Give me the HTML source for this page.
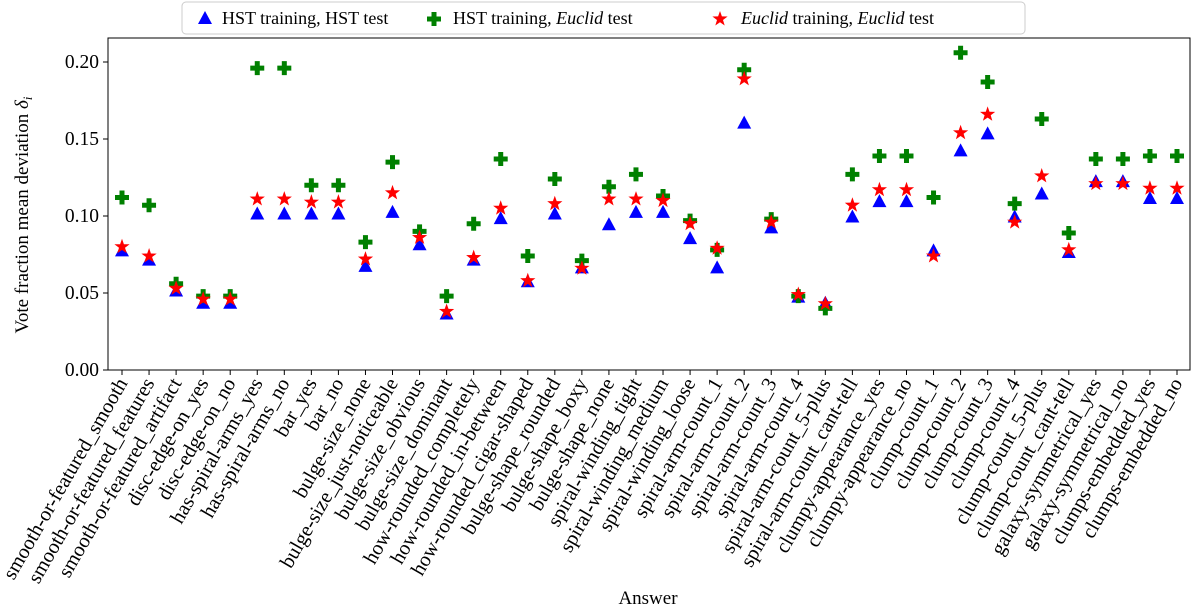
<!DOCTYPE html>
<html><head><meta charset="utf-8"><style>
body{margin:0;background:#fff;}
svg{display:block;font-family:"Liberation Serif","DejaVu Serif",serif;}
</style></head><body>
<svg id="chart" width="1200" height="609" viewBox="0 0 1200 609" xmlns="http://www.w3.org/2000/svg"></svg>
<script>
const categories=["smooth-or-featured_smooth","smooth-or-featured_features","smooth-or-featured_artifact","disc-edge-on_yes","disc-edge-on_no","has-spiral-arms_yes","has-spiral-arms_no","bar_yes","bar_no","bulge-size_none","bulge-size_just-noticeable","bulge-size_obvious","bulge-size_dominant","how-rounded_completely","how-rounded_in-between","how-rounded_cigar-shaped","bulge-shape_rounded","bulge-shape_boxy","bulge-shape_none","spiral-winding_tight","spiral-winding_medium","spiral-winding_loose","spiral-arm-count_1","spiral-arm-count_2","spiral-arm-count_3","spiral-arm-count_4","spiral-arm-count_5-plus","spiral-arm-count_cant-tell","clumpy-appearance_yes","clumpy-appearance_no","clump-count_1","clump-count_2","clump-count_3","clump-count_4","clump-count_5-plus","clump-count_cant-tell","galaxy-symmetrical_yes","galaxy-symmetrical_no","clumps-embedded_yes","clumps-embedded_no"];
const hstHst=[0.077,0.071,0.051,0.043,0.043,0.101,0.101,0.101,0.101,0.067,0.102,0.081,0.036,0.071,0.098,0.057,0.101,0.066,0.094,0.102,0.102,0.085,0.066,0.160,0.092,0.047,0.043,0.099,0.109,0.109,0.077,0.142,0.153,0.099,0.114,0.076,0.122,0.122,0.111,0.111];
const hstEuclid=[0.112,0.107,0.056,0.048,0.048,0.196,0.196,0.120,0.120,0.083,0.135,0.090,0.048,0.095,0.137,0.074,0.124,0.071,0.119,0.127,0.113,0.097,0.078,0.195,0.098,0.048,0.040,0.127,0.139,0.139,0.112,0.206,0.187,0.108,0.163,0.089,0.137,0.137,0.139,0.139];
const euclidEuclid=[0.080,0.074,0.053,0.046,0.046,0.111,0.111,0.109,0.109,0.072,0.115,0.086,0.038,0.073,0.105,0.058,0.108,0.066,0.111,0.111,0.110,0.095,0.079,0.189,0.096,0.049,0.043,0.107,0.117,0.117,0.074,0.154,0.166,0.096,0.126,0.078,0.121,0.121,0.118,0.118];
const yTicks=[0,0.05,0.10,0.15,0.20];
const yTickLabels=["0.00","0.05","0.10","0.15","0.20"];

const NS="http://www.w3.org/2000/svg";
const svg=document.getElementById('chart');
const L=108,R=1190,T=38,B=370;
const x=i=>122+i*(1177-122)/(categories.length-1);
const y=v=>B-v*(B-62)/0.2;
function mk(tag,attrs,parent){const e=document.createElementNS(NS,tag);for(const k in attrs)e.setAttribute(k,attrs[k]);(parent||svg).appendChild(e);return e;}

const frame=mk('rect',{x:L,y:T,width:R-L,height:B-T,fill:'none',stroke:'#000','stroke-width':1});



yTicks.forEach((v,i)=>{
  const t=mk('line',{x1:L-5,x2:L,y1:y(v),y2:y(v),stroke:'#000'});
  
  
  const tx=mk('text',{x:L-9,y:y(v)+6,'text-anchor':'end','font-size':19.5});
  tx.textContent=yTickLabels[i];
  
  
});
categories.forEach((c,i)=>{
  const t=mk('line',{x1:x(i),x2:x(i),y1:B,y2:B+5,stroke:'#000'});
  
  
  const tx=mk('text',{x:0,y:0,'text-anchor':'end','font-size':20.5,transform:`translate(${x(i)+6},${B+13}) rotate(-60)`});
  tx.textContent=c;
  
  
});

function tri(cx,cy,col,p){return mk('polygon',{points:`${cx},${cy-8} ${cx-7},${cy+5} ${cx+7},${cy+5}`,fill:col},p);}
function plus(cx,cy,col,p){return mk('path',{d:`M${cx-7},${cy}H${cx+7}M${cx},${cy-7}V${cy+7}`,stroke:col,'stroke-width':5,fill:'none'},p);}
function star(cx,cy,col,p){let pts=[];for(let k=0;k<10;k++){const r=k%2?3.2:8;const a=-Math.PI/2+k*Math.PI/5;pts.push((cx+r*Math.cos(a)).toFixed(1)+','+(cy+r*Math.sin(a)).toFixed(1));}return mk('polygon',{points:pts.join(' '),fill:col},p);}

const g1=mk('g',{});
const g2=mk('g',{});
const g3=mk('g',{});
hstHst.forEach((v,i)=>{const e=tri(x(i),y(v),'#0000ff',g1);});
hstEuclid.forEach((v,i)=>{const e=plus(x(i),y(v),'#008000',g2);});
euclidEuclid.forEach((v,i)=>{const e=star(x(i),y(v),'#ff0000',g3);});

const yt=mk('text',{x:0,y:0,'text-anchor':'middle','font-size':19,transform:'translate(28,215) rotate(-90)'});
yt.innerHTML='Vote fraction mean deviation <tspan font-style="italic">δ</tspan><tspan font-style="italic" font-size="13" dy="4">i</tspan>';


const xt=mk('text',{x:648,y:604,'text-anchor':'middle','font-size':19});
xt.textContent='Answer';



const lg=mk('g',{});
mk('rect',{x:182,y:2,width:843,height:32,rx:4,fill:'#fff',stroke:'#ccc'},lg);
tri(205,19,'#0000ff',lg);
const l1=mk('text',{x:222,y:24,'font-size':18},lg);l1.textContent='HST training, HST test';

plus(434,19,'#008000',lg);
const l2=mk('text',{x:453,y:24,'font-size':18},lg);l2.innerHTML='HST training, <tspan font-style="italic">Euclid</tspan> test';

star(720,19,'#ff0000',lg);
const l3=mk('text',{x:741,y:24,'font-size':18},lg);l3.innerHTML='<tspan font-style="italic">Euclid</tspan> training, <tspan font-style="italic">Euclid</tspan> test';

</script>
</body></html>
